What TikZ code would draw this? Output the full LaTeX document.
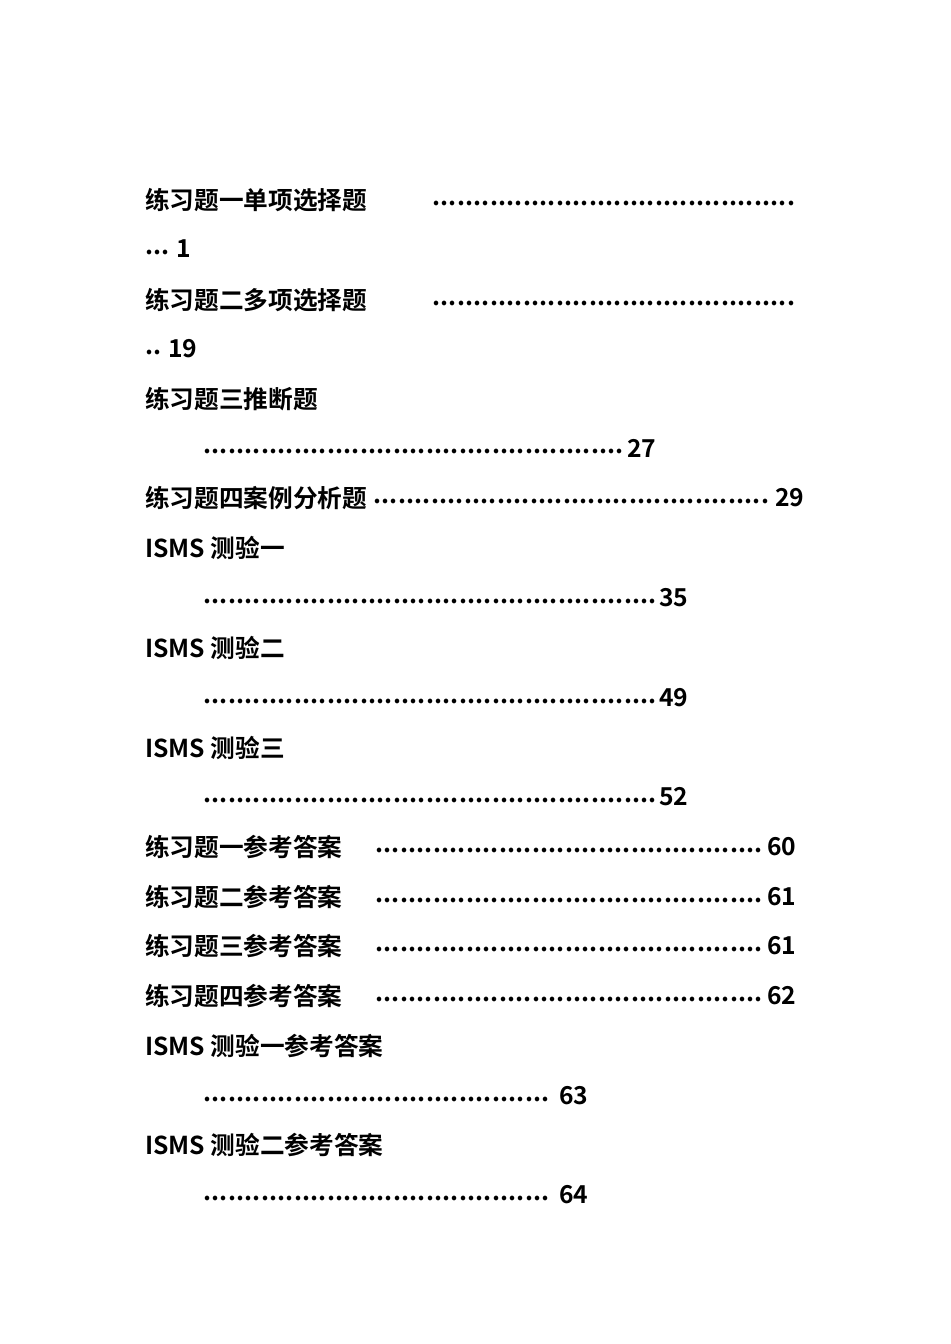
\documentclass[tikz,border=0pt]{standalone}
\usepackage{fontspec}
\usetikzlibrary{positioning}
\newfontfamily\cjk{Noto Sans CJK SC Bold}
\newdimen\pxu \pxu=0.75pt
\newcommand\dotrow[1]{\hbox to #1\pxu{\leaders\hbox to 8.25\pxu{\hss.\hss}\hfill}}
\tikzset{
    entry/.style = {anchor=west, inner sep=0, font=\cjk\fontsize{18.5}{20}\selectfont},
    pagenum/.style = {entry, right=1pt of #1}
}
\begin{document}
\begin{tikzpicture}[x=0.75pt, y=-0.75pt]
    \useasboundingbox (0,0) rectangle (950,1344);

    % single-line entries with dots
    \node[entry] (t1) at (145,200) {练习题一单项选择题};
    \node[entry] (d1) at (432,203) {\dotrow{366}};
    \node[entry] (d1b) at (145,252) {\dotrow{29}};
    \node[pagenum=d1b, yshift=3\pxu] (p1) {1};

    \node[entry] (t2) at (145,300) {练习题二多项选择题};
    \node[entry] (d2) at (432,303) {\dotrow{366}};
    \node[entry] (d2b) at (145,352) {\dotrow{21}};
    \node[pagenum=d2b, yshift=3\pxu] (p2) {19};

    \node[entry] (t3) at (145,399) {练习题三推断题};
    \node[entry] (d3) at (203,451) {\dotrow{422}};
    \node[pagenum=d3, yshift=3\pxu] (p3) {27};

    \node[entry] (t4) at (145,498) {练习题四案例分析题};
    \node[entry] (d4) at (373,501) {\dotrow{400}};
    \node[pagenum=d4, yshift=3\pxu] (p4) {29};

    % ISMS tests
    \node[entry] (t5) at (145,548) {ISMS 测验一};
    \node[entry] (d5) at (203,601) {\dotrow{454}};
    \node[pagenum=d5, yshift=3\pxu] (p5) {35};

    \node[entry] (t6) at (145,648) {ISMS 测验二};
    \node[entry] (d6) at (203,701) {\dotrow{454}};
    \node[pagenum=d6, yshift=3\pxu] (p6) {49};

    \node[entry] (t7) at (145,748) {ISMS 测验三};
    \node[entry] (d7) at (203,800) {\dotrow{454}};
    \node[pagenum=d7, yshift=3\pxu] (p7) {52};

    % answers
    \node[entry] (t8) at (145,847) {练习题一参考答案};
    \node[entry] (d8) at (375,850) {\dotrow{390}};
    \node[pagenum=d8, yshift=3\pxu] (p8) {60};

    \node[entry] (t9) at (145,897) {练习题二参考答案};
    \node[entry] (d9) at (375,900) {\dotrow{390}};
    \node[pagenum=d9, yshift=3\pxu] (p9) {61};

    \node[entry] (t10) at (145,946) {练习题三参考答案};
    \node[entry] (d10) at (375,949) {\dotrow{390}};
    \node[pagenum=d10, yshift=3\pxu] (p10) {61};

    \node[entry] (t11) at (145,996) {练习题四参考答案};
    \node[entry] (d11) at (375,999) {\dotrow{390}};
    \node[pagenum=d11, yshift=3\pxu] (p11) {62};

    \node[entry] (t12) at (145,1046) {ISMS 测验一参考答案};
    \node[entry] (d12) at (203,1099) {\dotrow{354}};
    \node[pagenum=d12, yshift=3\pxu] (p12) {63};

    \node[entry] (t13) at (145,1145) {ISMS 测验二参考答案};
    \node[entry] (d13) at (203,1198) {\dotrow{354}};
    \node[pagenum=d13, yshift=3\pxu] (p13) {64};

\end{tikzpicture}
\end{document}
